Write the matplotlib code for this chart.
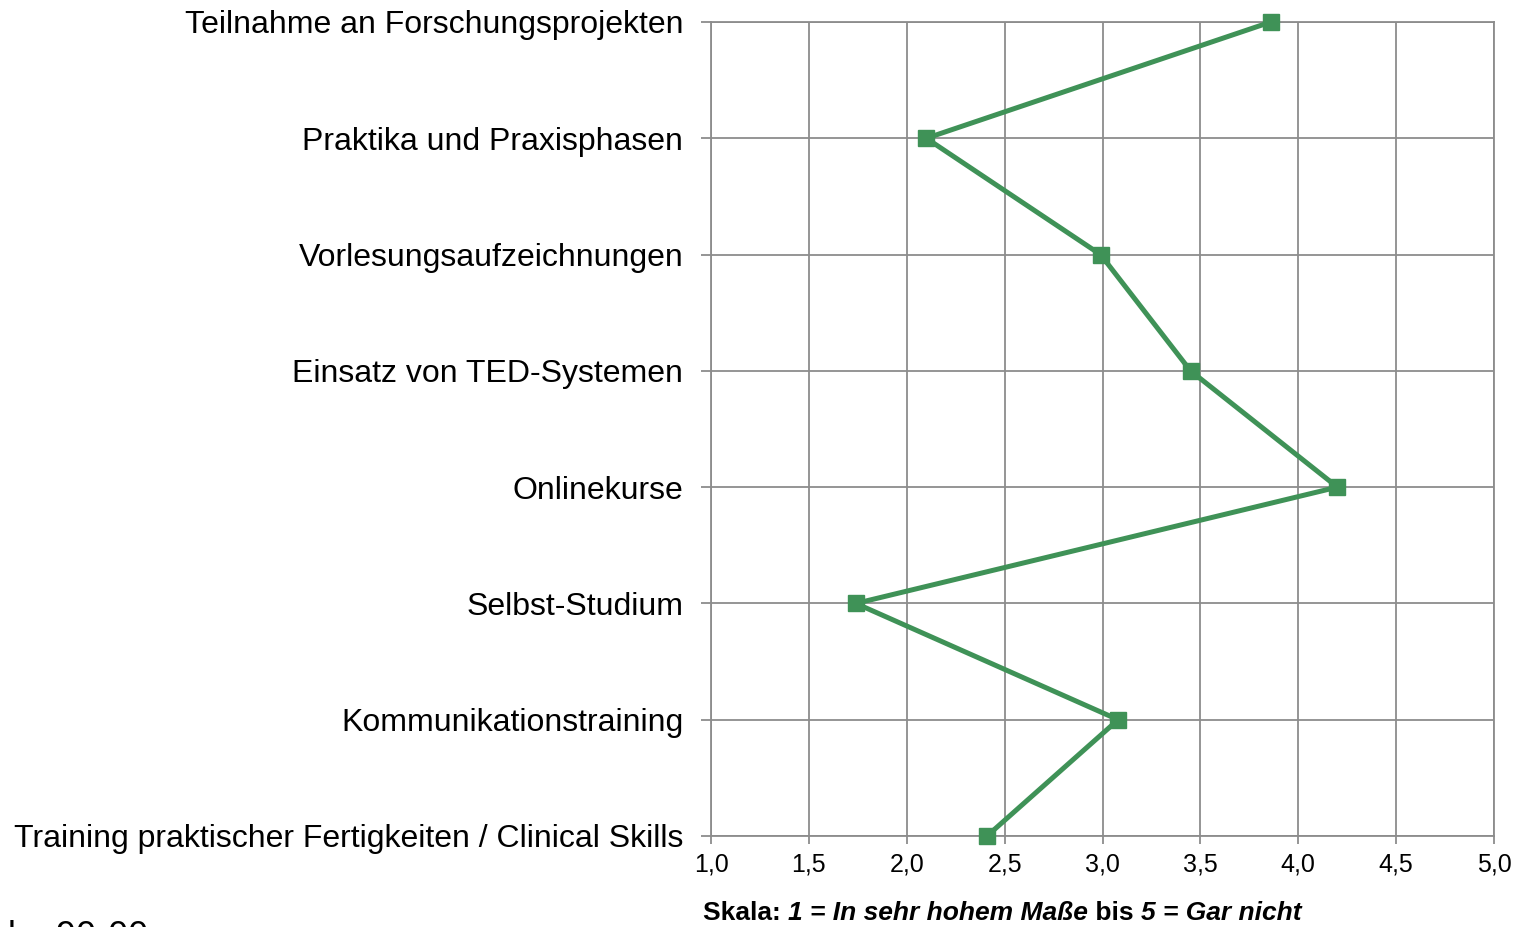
import matplotlib.pyplot as plt
from matplotlib.ticker import FuncFormatter

# data (top to bottom as shown)
categories = ['Teilnahme an Forschungsprojekten',
              'Praktika und Praxisphasen',
              'Vorlesungsaufzeichnungen',
              'Einsatz von TED-Systemen',
              'Onlinekurse',
              'Selbst-Studium',
              'Kommunikationstraining',
              'Training praktischer Fertigkeiten / Clinical Skills']
values = [3.86, 2.10, 2.99, 3.45, 4.20, 1.74, 3.08, 2.41]
x_ticks = [1.0, 1.5, 2.0, 2.5, 3.0, 3.5, 4.0, 4.5, 5.0]

plt.rcParams['font.family'] = ['Liberation Sans', 'DejaVu Sans']
grid_col = '#8c8c8c'
line_col = '#3f9257'

fig = plt.figure(figsize=(15.23, 9.27), dpi=100)
ax = fig.add_axes([711/1523, 1-836/927, (1494-711)/1523, (836-22)/927])

ypos = list(range(len(categories)))[::-1]
ax.plot(values, ypos, color=line_col, lw=3.6, marker='s', ms=12,
        clip_on=False, zorder=3)

ax.set_xlim(1, 5)
ax.set_ylim(0, len(categories) - 1)
ax.set_xticks(x_ticks)
ax.xaxis.set_major_formatter(FuncFormatter(lambda v, p: f'{v:.1f}'.replace('.', ',')))
ax.set_yticks(ypos)
ax.set_yticklabels(categories, fontsize=23)
ax.grid(True, color=grid_col, lw=1.3)
ax.set_axisbelow(True)
for s in ax.spines.values():
    s.set_color(grid_col)
    s.set_linewidth(1.3)
ax.tick_params(axis='y', length=7, width=1.3, color=grid_col, pad=13)
ax.tick_params(axis='x', length=6, width=1.3, color=grid_col, pad=6, labelsize=18)

# scale note with mixed bold / bold-italic parts
parts = [('Skala: ', 'normal'), ('1 = In sehr hohem Maße', 'italic'),
         (' bis ', 'normal'), ('5 = Gar nicht', 'italic')]
t = fig.text(703/1523, 1-925/927, parts[0][0], fontsize=19, weight='bold',
             va='bottom', ha='left')
for txt, st in parts[1:]:
    t = ax.annotate(txt, xy=(1, 0), xycoords=t, va='bottom', ha='left',
                    fontsize=19, weight='bold', style=st, annotation_clip=False)

# cut-off note at bottom left (cut as in the source)
fig.text(8/1523, -28/927, 'l    90-00', fontsize=26, va='bottom', ha='left')

fig.savefig('out.png', dpi=100)
